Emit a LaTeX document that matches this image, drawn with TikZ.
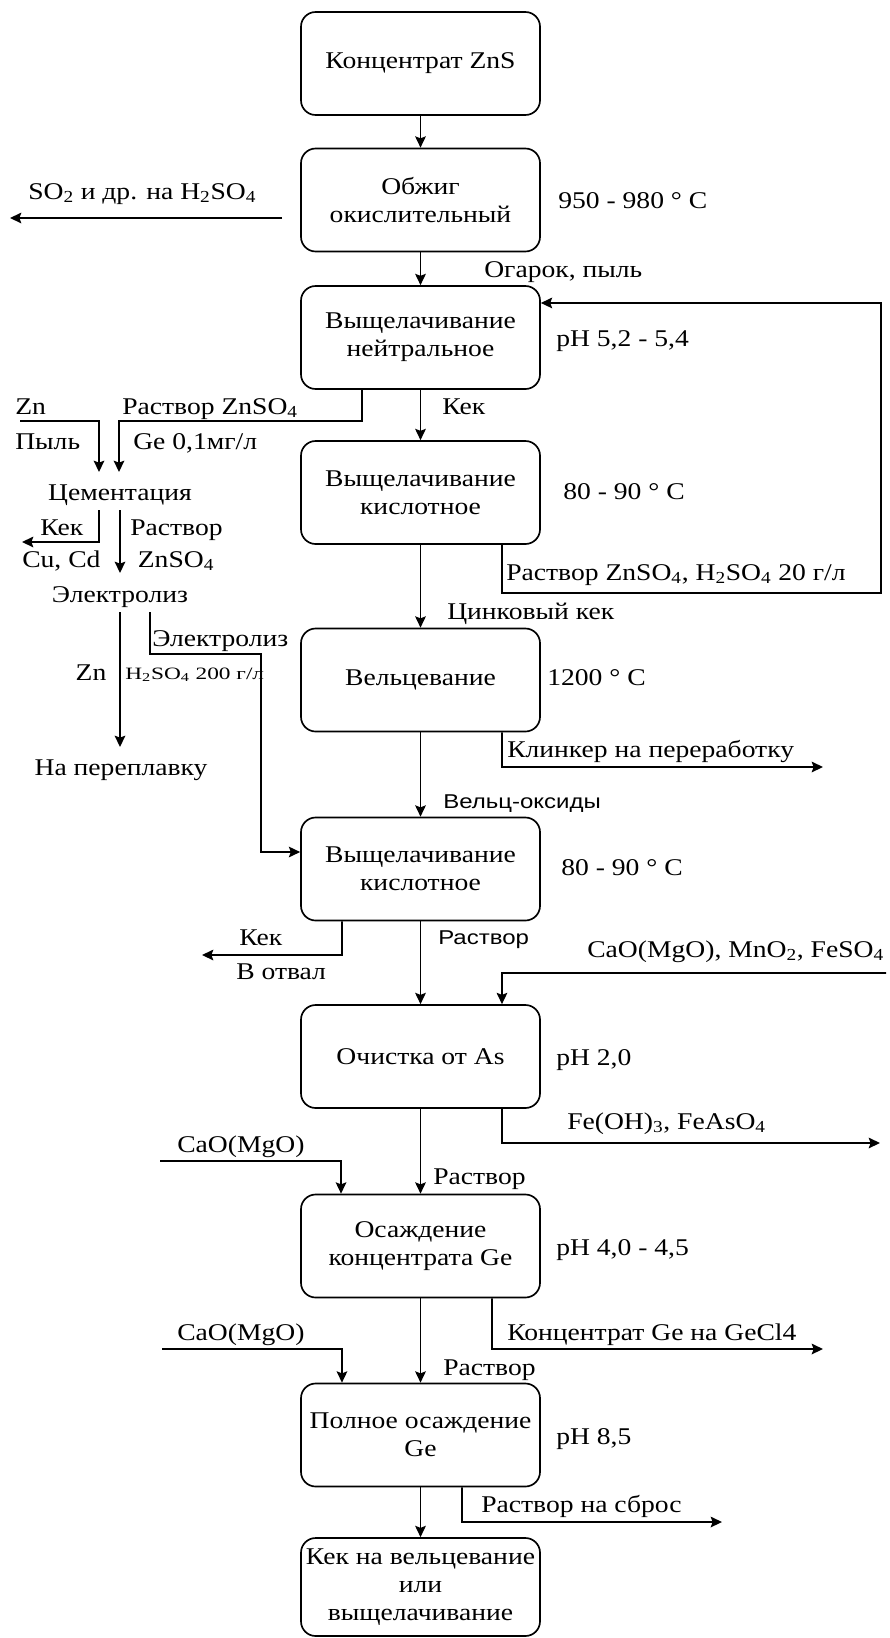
\documentclass[tikz,border=0pt]{standalone}
\usepackage{fontspec}
\usepackage{graphicx}
\setmainfont{Liberation Serif}[FakeStretch=1.15]
\newfontfamily\sansf{Liberation Sans}[FakeStretch=1.2]
\usetikzlibrary{arrows.meta}
\newcommand{\sbs}[1]{\textsubscript{#1}}
\begin{document}
\begin{tikzpicture}[x=0.75pt,y=-0.75pt,
  font=\fontsize{18pt}{21pt}\selectfont,
  box/.style={draw, line width=1.25pt, rounded corners=11pt, minimum width=179.25pt, minimum height=77.25pt, align=center, inner sep=0pt},
  lab/.style={anchor=base west, inner sep=0pt},
  labc/.style={anchor=base, inner sep=0pt},
  sanslab/.style={anchor=base west, inner sep=0pt, font=\sansf\fontsize{15pt}{18pt}\selectfont},
  arr/.style={line width=1.2pt, -{Stealth[length=8.5pt,width=8pt,inset=1.5pt]}},
  ln/.style={line width=1.2pt}]
\useasboundingbox (0,0) rectangle (889,1638);

% main boxes
\node[box] (b1) at (420.5,63.5) {Концентрат ZnS};
\node[box] (b2) at (420.5,200) {Обжиг\\окислительный};
\node[box] (b3) at (420.5,337.5) {Выщелачивание\\нейтральное};
\node[box] (b4) at (420.5,492.5) {Выщелачивание\\кислотное};
\node[box] (b5) at (420.5,680) {Вельцевание};
\node[box] (b6) at (420.5,869) {Выщелачивание\\кислотное};
\node[box] (b7) at (420.5,1056.5) {Очистка от As};
\node[box] (b8) at (420.5,1246) {Осаждение\\концентрата Ge};
\node[box] (b9) at (420.5,1435) {Полное осаждение\\Ge};
\node[box, minimum height=73.5pt] (b10) at (420.5,1587) {Кек на вельцевание\\или\\выщелачивание};

% side labels
\node[lab] (t1) at (28,199) {SO\sbs{2} и др. на H\sbs{2}SO\sbs{4}};
\node[lab] (t2) at (558,208) {950 - 980 ° C};
\node[lab] (t3) at (484,277) {Огарок, пыль};
\node[lab] (t4) at (556,346) {pH 5,2 - 5,4};
\node[lab] (t5) at (442,414) {Кек};
\node[lab] (t6) at (563,499) {80 - 90 ° C};
\node[lab] (t7) at (506,580) {Раствор ZnSO\sbs{4}, H\sbs{2}SO\sbs{4} 20 г/л};
\node[lab] (t8) at (447,619) {Цинковый кек};
\node[lab] (t9) at (547,685) {1200 ° C};
\node[lab] (t10) at (507,757) {Клинкер на переработку};
\node[sanslab] (t11) at (443,808) {Вельц-оксиды};
\node[lab] (t12) at (561,875) {80 - 90 ° C};
\node[lab] (t13) at (239,945) {Кек};
\node[lab] (t14) at (236,979) {В отвал};
\node[sanslab] (t15) at (438,944) {Раствор};
\node[lab] (t16) at (587,957) {CaO(MgO), MnO\sbs{2}, FeSO\sbs{4}};
\node[lab] (t17) at (556,1065) {pH 2,0};
\node[lab] (t18) at (567,1129) {Fe(OH)\sbs{3}, FeAsO\sbs{4}};
\node[lab] (t19) at (177,1152) {CaO(MgO)};
\node[lab] (t20) at (433,1184) {Раствор};
\node[lab] (t21) at (556,1255) {pH 4,0 - 4,5};
\node[lab] (t22) at (507,1340) {Концентрат Ge на GeCl4};
\node[lab] (t23) at (177,1340) {CaO(MgO)};
\node[lab] (t24) at (443,1375) {Раствор};
\node[lab] (t25) at (556,1444) {pH 8,5};
\node[lab] (t26) at (481,1512) {Раствор на сброс};

% left cluster
\node[lab] (z1) at (15,414) {Zn};
\node[lab] (z2) at (122,414) {Раствор ZnSO\sbs{4}};
\node[lab] (z3) at (15,449) {Пыль};
\node[lab] (z4) at (133,449) {Ge 0,1мг/л};
\node[labc] (cem) at (120,500) {Цементация};
\node[lab] (z5) at (40,535) {Кек};
\node[lab] (z6) at (130,535) {Раствор};
\node[lab] (z7) at (22,567) {Cu, Cd};
\node[labc] (z8) at (176,567) {ZnSO\sbs{4}};
\node[labc] (elz) at (120,602) {Электролиз};
\node[lab] (z9) at (152,646) {Электролиз};
\node[labc] (z10) at (91,680) {Zn};
\node[lab] (z11) at (125,679) {\fontsize{13pt}{15pt}\selectfont\scalebox{1.17}[1]{H\sbs{2}SO\sbs{4} 200 г/л}};
\node[labc] (pere) at (121,775) {На переплавку};

% coordinates for free ends
\coordinate (so2a) at (282,218);
\coordinate (so2b) at (10,218);
\coordinate (cemR) at (119,472);
\coordinate (cemL) at (99,472);
\coordinate (znin) at (20,421);
\coordinate (cemBL) at (99,510);
\coordinate (cukek) at (22,542);
\coordinate (cemB) at (120,510);
\coordinate (elT) at (120,573);
\coordinate (elB) at (120,612);
\coordinate (pereT) at (120,747);
\coordinate (elB2) at (150,612);
\coordinate (klink) at (823,767);
\coordinate (otval) at (202,955);
\coordinate (reag1) at (886,973);
\coordinate (feout) at (880,1143);
\coordinate (cao1) at (160,1161);
\coordinate (geout) at (823,1349);
\coordinate (cao2) at (162,1349);
\coordinate (sbros) at (722,1522);

% main vertical flow
\draw[arr] (b1.south) -- (b2.north);
\draw[arr] (b2.south) -- (b3.north);
\draw[arr] (b3.south) -- (b4.north);
\draw[arr] (b4.south) -- (b5.north);
\draw[arr] (b5.south) -- (b6.north);
\draw[arr] (b6.south) -- (b7.north);
\draw[arr] (b7.south) -- (b8.north);
\draw[arr] (b8.south) -- (b9.north);
\draw[arr] (b9.south) -- (b10.north);

% side flows
\draw[arr] (so2a) -- (so2b);
\draw[arr] ([xshift=-43.9pt]b3.south) -- (362,421) -- (119,421) -- (cemR);
\draw[arr] (znin) -- (99,421) -- (cemL);
\draw[arr] (cemBL) -- (99,542) -- (cukek);
\draw[arr] (cemB) -- (elT);
\draw[arr] (elB) -- (pereT);
\draw[arr] (elB2) -- (150,654) -- (261,654) -- (261,852) -- ([yshift=12.75pt]b6.west);
\draw[arr] ([xshift=61.1pt]b4.south) -- (502,593) -- (881,593) -- (881,303) -- ([yshift=25.9pt]b3.east);
\draw[arr] ([xshift=61.1pt]b5.south) -- (502,767) -- (klink);
\draw[arr] ([xshift=-58.9pt]b6.south) -- (342,955) -- (otval);
\draw[arr] (reag1) -- (502,973) -- ([xshift=61.1pt]b7.north);
\draw[arr] ([xshift=61.1pt]b7.south) -- (502,1143) -- (feout);
\draw[arr] (cao1) -- (341,1161) -- ([xshift=-59.6pt]b8.north);
\draw[arr] ([xshift=53.6pt]b8.south) -- (492,1349) -- (geout);
\draw[arr] (cao2) -- (342,1349) -- ([xshift=-58.9pt]b9.north);
\draw[arr] ([xshift=31.1pt]b9.south) -- (462,1522) -- (sbros);
\end{tikzpicture}
\end{document}
